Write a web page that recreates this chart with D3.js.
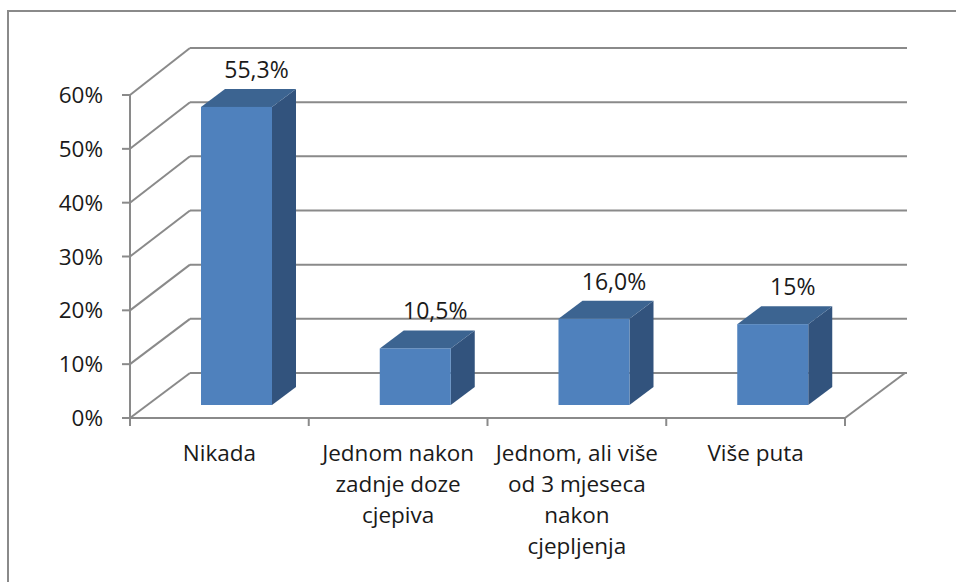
<!DOCTYPE html>
<html>
<head>
<meta charset="utf-8">
<script src="https://cdn.jsdelivr.net/npm/d3@7"></script>
<style>
  html, body { margin: 0; padding: 0; background: #fff; }
  svg { display: block; }
  text { font-family: "Open Sans", "Noto Sans", sans-serif; fill: #1a1a1a; }
</style>
</head>
<body>
<svg id="chart" width="956" height="582"></svg>
<script>
// ---- data ----
const categories = ["Nikada", "Jednom nakon zadnje doze cjepiva", "Jednom, ali više od 3 mjeseca nakon cjepljenja", "Više puta"];
const categoryLines = [
  ["Nikada"],
  ["Jednom nakon", "zadnje doze", "cjepiva"],
  ["Jednom, ali više", "od 3 mjeseca", "nakon", "cjepljenja"],
  ["Više puta"]
];
const values = [0.553, 0.105, 0.160, 0.15];
const valueLabels = ["55,3%", "10,5%", "16,0%", "15%"];
const yTicks = [0, 0.1, 0.2, 0.3, 0.4, 0.5, 0.6];
const yTickLabels = ["0%", "10%", "20%", "30%", "40%", "50%", "60%"];

// ---- layout ----
const svg = d3.select("#chart");
const gridColor = "#8a8a8a";
const front = "#4F81BD", topC = "#3C6491", sideC = "#32537D";

const x = d3.scaleBand().domain(categories).range([130, 845]).padding(0);
const yFront = d3.scaleLinear().domain([0, 0.6]).range([418, 95]);
const yBack = d3.scaleLinear().domain([0, 0.6]).range([373, 48]);
const DX = 60;            // wall depth offset
const backRight = 907;
const barBase = 405;
const yBar = d3.scaleLinear().domain([0, 0.6]).range([barBase, barBase - 0.6 * 539]);
const barOffset = 71, barW = 71, bdx = 24, bdy = -18;

// outer border
svg.append("rect").attr("x", 8).attr("y", 11).attr("width", 1000).attr("height", 700)
  .attr("fill", "none").attr("stroke", gridColor).attr("stroke-width", 2);

const grid = svg.append("g").attr("stroke", gridColor).attr("stroke-width", 2).attr("fill", "none");
// back wall gridlines
grid.selectAll("line.back").data(yTicks).join("line").attr("class", "back")
  .attr("x1", 130 + DX).attr("x2", backRight)
  .attr("y1", d => yBack(d)).attr("y2", d => yBack(d));
// side wall gridlines
grid.selectAll("line.side").data(yTicks).join("line").attr("class", "side")
  .attr("x1", 130).attr("x2", 130 + DX)
  .attr("y1", d => yFront(d)).attr("y2", d => yBack(d));
// floor right edge
grid.append("line").attr("x1", 845).attr("y1", yFront(0)).attr("x2", backRight - 2).attr("y2", yBack(0));
// front y axis
grid.append("line").attr("x1", 130).attr("x2", 130).attr("y1", yFront(0.6)).attr("y2", yFront(0));
grid.selectAll("line.ytick").data(yTicks).join("line").attr("class", "ytick")
  .attr("x1", 122).attr("x2", 130).attr("y1", d => yFront(d)).attr("y2", d => yFront(d));
// front x axis
grid.append("line").attr("x1", 130).attr("x2", 845).attr("y1", yFront(0)).attr("y2", yFront(0));
const xTickPos = categories.map(c => x(c)).concat([x.range()[1]]);
grid.selectAll("line.xtick").data(xTickPos).join("line").attr("class", "xtick")
  .attr("x1", d => d).attr("x2", d => d).attr("y1", yFront(0)).attr("y2", yFront(0) + 8);

// y tick labels
svg.selectAll("text.ylab").data(yTicks).join("text").attr("class", "ylab")
  .attr("x", 103).attr("y", d => yFront(d)).attr("dy", "0.36em")
  .attr("text-anchor", "end").style("font-size", "22.5px")
  .text((d, i) => yTickLabels[i]);

// bars
const bars = svg.selectAll("g.bar").data(categories).join("g").attr("class", "bar");
bars.each(function (c, i) {
  const g = d3.select(this);
  const x0 = x(c) + barOffset, x1 = x0 + barW;
  const yt = yBar(values[i]), yb = yBar(0);
  // side
  g.append("path").attr("fill", sideC)
    .attr("d", `M${x1},${yt}L${x1 + bdx},${yt + bdy}L${x1 + bdx},${yb + bdy}L${x1},${yb}Z`);
  // top
  g.append("path").attr("fill", topC)
    .attr("d", `M${x0},${yt}L${x0 + bdx},${yt + bdy}L${x1 + bdx},${yt + bdy}L${x1},${yt}Z`);
  // front
  g.append("rect").attr("fill", front).attr("x", x0).attr("y", yt).attr("width", barW).attr("height", yb - yt);
  // value label
  g.append("text").attr("x", (x0 + x1) / 2 + bdx / 2 + 8).attr("y", yt + bdy - 11)
    .attr("text-anchor", "middle").style("font-size", "23px").text(valueLabels[i]);
});

// category labels
svg.selectAll("text.cat").data(categories).join("text").attr("class", "cat")
  .attr("text-anchor", "middle").style("font-size", "22.5px")
  .each(function (c, i) {
    const t = d3.select(this);
    categoryLines[i].forEach((ln, k) => {
      t.append("tspan").attr("x", x(c) + x.bandwidth() / 2).attr("y", 461 + k * 31).text(ln);
    });
  });
</script>
</body>
</html>
